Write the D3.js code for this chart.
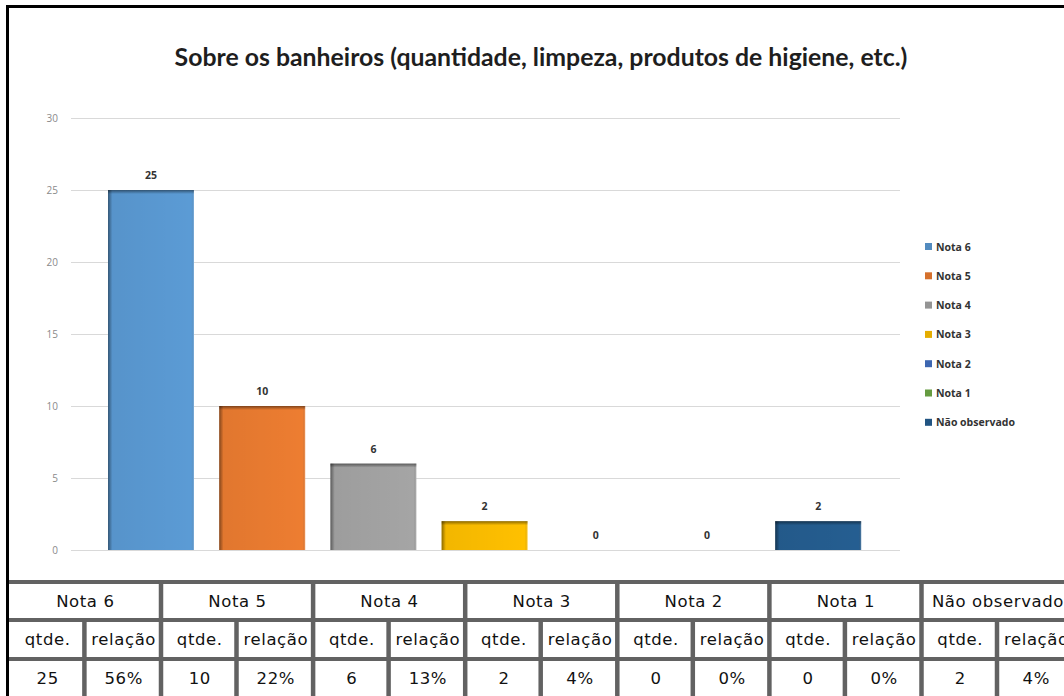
<!DOCTYPE html>
<html><head><meta charset="utf-8">
<script src="https://cdn.jsdelivr.net/npm/d3@7"></script>
<style>html,body{margin:0;padding:0;background:#fff;}</style>
</head><body>
<svg id="c" width="1064" height="696"></svg>
<script>
const categories = ["Nota 6","Nota 5","Nota 4","Nota 3","Nota 2","Nota 1","Não observado"];
const values = [25, 10, 6, 2, 0, 0, 2];
const percents = ["56%","22%","13%","4%","0%","0%","4%"];
const colors = ["#5B9BD5","#ED7D31","#A5A5A5","#FFC000","#4472C4","#70AD47","#255E91"];
const yTicks = [0,5,10,15,20,25,30];
const subHeaders = ["qtde.","relação"];
const title = "Sobre os banheiros (quantidade, limpeza, produtos de higiene, etc.)";

const svg = d3.select("#c");
const defs = svg.append("defs");
const gl = defs.append("linearGradient").attr("id","shadeL").attr("x1",0).attr("x2",1).attr("y1",0).attr("y2",0);
gl.append("stop").attr("offset",0).attr("stop-color","#000").attr("stop-opacity",0.45);
gl.append("stop").attr("offset",0.05).attr("stop-color","#000").attr("stop-opacity",0.05);
gl.append("stop").attr("offset",0.97).attr("stop-color","#000").attr("stop-opacity",0);
gl.append("stop").attr("offset",1).attr("stop-color","#fff").attr("stop-opacity",0.25);
const gt = defs.append("linearGradient").attr("id","shadeT").attr("x1",0).attr("x2",0).attr("y1",0).attr("y2",1);
gt.append("stop").attr("offset",0).attr("stop-color","#000").attr("stop-opacity",0.45);
gt.append("stop").attr("offset",1).attr("stop-color","#000").attr("stop-opacity",0);

// frame
svg.append("rect").attr("x",7.5).attr("y",6.5).attr("width",1070).attr("height",700)
  .attr("fill","none").attr("stroke","#000").attr("stroke-width",3);

const y = d3.scaleLinear().domain([0,30]).range([550,118]);
const x = d3.scaleBand().domain(categories).range([95.4,873.8]).paddingInner(0.227).paddingOuter(0.1135);

// title
const t = svg.append("text").attr("x",541).attr("y",66).attr("text-anchor","middle")
  .attr("font-family","Lato, 'Open Sans', sans-serif").attr("font-weight","bold")
  .attr("font-size",20).attr("fill","#1e1e1e").text(title);
const tw = t.node().getComputedTextLength();
t.attr("font-size", 20*733/tw);

// gridlines
svg.append("g").selectAll("line").data(yTicks).join("line")
  .attr("x1",71).attr("x2",900).attr("y1",d=>Math.round(y(d))+0.5).attr("y2",d=>Math.round(y(d))+0.5)
  .attr("stroke","#d9d9d9").attr("stroke-width",1);
// y axis labels
const yAxis = d3.axisLeft(y).tickValues(yTicks).tickSize(0).tickPadding(0);
const ya = svg.append("g").attr("transform","translate(58,0)").call(yAxis);
ya.select(".domain").remove();
ya.selectAll("text").attr("font-family","'Open Sans', sans-serif").attr("font-size",10).attr("fill","#8a8a8a");

// bars
const bars = svg.append("g");
bars.selectAll("rect.bar").data(values).join("rect").attr("class","bar")
  .attr("x",(d,i)=>x(categories[i])).attr("width",x.bandwidth())
  .attr("y",d=>y(d)).attr("height",d=>y(0)-y(d)).attr("fill",(d,i)=>colors[i]);
bars.selectAll("rect.sl").data(values).join("rect").attr("class","sl")
  .attr("x",(d,i)=>x(categories[i])).attr("width",x.bandwidth())
  .attr("y",d=>y(d)).attr("height",d=>y(0)-y(d)).attr("fill","url(#shadeL)");
bars.selectAll("rect.st").data(values).join("rect").attr("class","st")
  .attr("x",(d,i)=>x(categories[i])).attr("width",x.bandwidth())
  .attr("y",d=>y(d)).attr("height",d=>d>0?4:0).attr("fill","url(#shadeT)");
// data labels
svg.append("g").selectAll("text").data(values).join("text")
  .attr("x",(d,i)=>x(categories[i])+x.bandwidth()/2).attr("y",d=>y(d)-11)
  .attr("text-anchor","middle").attr("font-family","'Open Sans', sans-serif").attr("font-weight","bold")
  .attr("font-size",10.5).attr("fill","#333").text(d=>d);

// legend
const lg = svg.append("g").attr("transform","translate(925,246.5)");
const li = lg.selectAll("g").data(categories).join("g").attr("transform",(d,i)=>`translate(0,${i*29.3})`);
li.append("rect").attr("x",0).attr("y",-3.5).attr("width",7).attr("height",7).attr("fill",(d,i)=>d3.color(colors[i]).darker(0.3));
li.append("text").attr("x",11).attr("y",4).attr("font-family","'Open Sans', sans-serif").attr("font-weight","bold")
  .attr("font-size",10.5).attr("fill","#333").text(d=>d);

// table
const gW = 152.1, g0 = 8.9, subW = 75.5;
const tbl = svg.append("g");
const lineC = "#626262";
const hLines = [582, 620, 659];
tbl.selectAll("line.h").data(hLines).join("line").attr("class","h")
  .attr("x1",9).attr("x2",1064).attr("y1",d=>d).attr("y2",d=>d).attr("stroke",lineC).attr("stroke-width",4);
tbl.selectAll("line.g").data(categories.slice(1)).join("line").attr("class","g")
  .attr("x1",(d,i)=>g0+(i+1)*gW).attr("x2",(d,i)=>g0+(i+1)*gW).attr("y1",580).attr("y2",696)
  .attr("stroke",lineC).attr("stroke-width",4.5);
tbl.selectAll("line.s").data(categories).join("line").attr("class","s")
  .attr("x1",(d,i)=>g0+i*gW+subW).attr("x2",(d,i)=>g0+i*gW+subW).attr("y1",620).attr("y2",696)
  .attr("stroke",lineC).attr("stroke-width",4.5);
const tf = {"font-family":"'DejaVu Sans', sans-serif","font-size":16.5,"letter-spacing":0.6,"fill":"#111"};
function styl(s){ for(const k in tf) s.attr(k,tf[k]); return s; }
styl(tbl.selectAll("text.hd").data(categories).join("text").attr("class","hd")
  .attr("x",(d,i)=>g0+i*gW+gW/2+0.4).attr("y",607).attr("text-anchor","middle").text(d=>d));
const subs = [];
categories.forEach((c,i)=>{ subHeaders.forEach((s,j)=>subs.push({x:g0+i*gW+(j===0?subW/2:subW+(gW-subW)/2), s})); });
styl(tbl.selectAll("text.sh").data(subs).join("text").attr("class","sh")
  .attr("x",d=>d.x+1).attr("y",645).attr("text-anchor","middle").text(d=>d.s));
const vals = [];
categories.forEach((c,i)=>{ vals.push({x:g0+i*gW+subW/2, s:String(values[i])}); vals.push({x:g0+i*gW+subW+(gW-subW)/2, s:percents[i]}); });
styl(tbl.selectAll("text.v").data(vals).join("text").attr("class","v")
  .attr("x",d=>d.x+1).attr("y",684).attr("text-anchor","middle").text(d=>d.s));
</script>
</body></html>
